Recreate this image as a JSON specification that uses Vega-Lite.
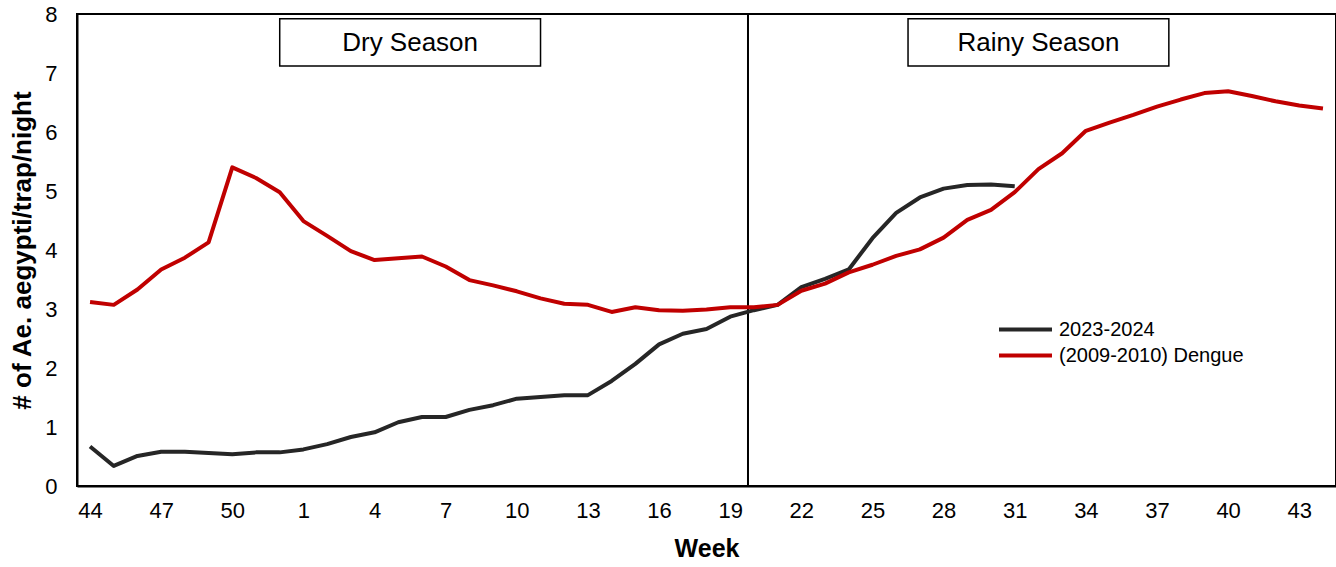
{
  "$schema": "https://vega.github.io/schema/vega-lite/v6.json",
  "width": 1259,
  "height": 472,
  "autosize": {"type": "none"},
  "padding": {"left": 77, "top": 14, "right": 0, "bottom": 81},
  "background": "white",
  "config": {
    "font": "Liberation Sans",
    "view": {"stroke": "#000", "strokeWidth": 2},
    "axis": {"grid": false, "labelColor": "#000", "titleColor": "#000", "domainColor": "#000", "domainWidth": 2, "ticks": false, "labelFont": "Liberation Sans", "titleFont": "Liberation Sans"}
  },
  "datasets": {
    "abund": [
      {"t":0,"week":44,"series":"2023-2024","value":0.67},
      {"t":1,"week":45,"series":"2023-2024","value":0.34},
      {"t":2,"week":46,"series":"2023-2024","value":0.51},
      {"t":3,"week":47,"series":"2023-2024","value":0.58},
      {"t":4,"week":48,"series":"2023-2024","value":0.58},
      {"t":5,"week":49,"series":"2023-2024","value":0.56},
      {"t":6,"week":50,"series":"2023-2024","value":0.54},
      {"t":7,"week":51,"series":"2023-2024","value":0.57},
      {"t":8,"week":52,"series":"2023-2024","value":0.57},
      {"t":9,"week":1,"series":"2023-2024","value":0.62},
      {"t":10,"week":2,"series":"2023-2024","value":0.71},
      {"t":11,"week":3,"series":"2023-2024","value":0.83},
      {"t":12,"week":4,"series":"2023-2024","value":0.91},
      {"t":13,"week":5,"series":"2023-2024","value":1.08},
      {"t":14,"week":6,"series":"2023-2024","value":1.17},
      {"t":15,"week":7,"series":"2023-2024","value":1.17},
      {"t":16,"week":8,"series":"2023-2024","value":1.29},
      {"t":17,"week":9,"series":"2023-2024","value":1.37},
      {"t":18,"week":10,"series":"2023-2024","value":1.48},
      {"t":19,"week":11,"series":"2023-2024","value":1.51},
      {"t":20,"week":12,"series":"2023-2024","value":1.54},
      {"t":21,"week":13,"series":"2023-2024","value":1.54},
      {"t":22,"week":14,"series":"2023-2024","value":1.78},
      {"t":23,"week":15,"series":"2023-2024","value":2.07},
      {"t":24,"week":16,"series":"2023-2024","value":2.40},
      {"t":25,"week":17,"series":"2023-2024","value":2.58},
      {"t":26,"week":18,"series":"2023-2024","value":2.66},
      {"t":27,"week":19,"series":"2023-2024","value":2.87},
      {"t":28,"week":20,"series":"2023-2024","value":2.98},
      {"t":29,"week":21,"series":"2023-2024","value":3.07},
      {"t":30,"week":22,"series":"2023-2024","value":3.37},
      {"t":31,"week":23,"series":"2023-2024","value":3.51},
      {"t":32,"week":24,"series":"2023-2024","value":3.67},
      {"t":33,"week":25,"series":"2023-2024","value":4.20},
      {"t":34,"week":26,"series":"2023-2024","value":4.63},
      {"t":35,"week":27,"series":"2023-2024","value":4.89},
      {"t":36,"week":28,"series":"2023-2024","value":5.04},
      {"t":37,"week":29,"series":"2023-2024","value":5.10},
      {"t":38,"week":30,"series":"2023-2024","value":5.11},
      {"t":39,"week":31,"series":"2023-2024","value":5.08},
      {"t":0,"week":44,"series":"(2009-2010) Dengue","value":3.12},
      {"t":1,"week":45,"series":"(2009-2010) Dengue","value":3.07},
      {"t":2,"week":46,"series":"(2009-2010) Dengue","value":3.33},
      {"t":3,"week":47,"series":"(2009-2010) Dengue","value":3.67},
      {"t":4,"week":48,"series":"(2009-2010) Dengue","value":3.87},
      {"t":5,"week":49,"series":"(2009-2010) Dengue","value":4.13},
      {"t":6,"week":50,"series":"(2009-2010) Dengue","value":5.40},
      {"t":7,"week":51,"series":"(2009-2010) Dengue","value":5.22},
      {"t":8,"week":52,"series":"(2009-2010) Dengue","value":4.98},
      {"t":9,"week":1,"series":"(2009-2010) Dengue","value":4.49},
      {"t":10,"week":2,"series":"(2009-2010) Dengue","value":4.24},
      {"t":11,"week":3,"series":"(2009-2010) Dengue","value":3.98},
      {"t":12,"week":4,"series":"(2009-2010) Dengue","value":3.83},
      {"t":13,"week":5,"series":"(2009-2010) Dengue","value":3.86},
      {"t":14,"week":6,"series":"(2009-2010) Dengue","value":3.89},
      {"t":15,"week":7,"series":"(2009-2010) Dengue","value":3.72},
      {"t":16,"week":8,"series":"(2009-2010) Dengue","value":3.49},
      {"t":17,"week":9,"series":"(2009-2010) Dengue","value":3.40},
      {"t":18,"week":10,"series":"(2009-2010) Dengue","value":3.30},
      {"t":19,"week":11,"series":"(2009-2010) Dengue","value":3.18},
      {"t":20,"week":12,"series":"(2009-2010) Dengue","value":3.09},
      {"t":21,"week":13,"series":"(2009-2010) Dengue","value":3.07},
      {"t":22,"week":14,"series":"(2009-2010) Dengue","value":2.95},
      {"t":23,"week":15,"series":"(2009-2010) Dengue","value":3.03},
      {"t":24,"week":16,"series":"(2009-2010) Dengue","value":2.98},
      {"t":25,"week":17,"series":"(2009-2010) Dengue","value":2.97},
      {"t":26,"week":18,"series":"(2009-2010) Dengue","value":2.99},
      {"t":27,"week":19,"series":"(2009-2010) Dengue","value":3.03},
      {"t":28,"week":20,"series":"(2009-2010) Dengue","value":3.03},
      {"t":29,"week":21,"series":"(2009-2010) Dengue","value":3.07},
      {"t":30,"week":22,"series":"(2009-2010) Dengue","value":3.31},
      {"t":31,"week":23,"series":"(2009-2010) Dengue","value":3.43},
      {"t":32,"week":24,"series":"(2009-2010) Dengue","value":3.62},
      {"t":33,"week":25,"series":"(2009-2010) Dengue","value":3.75},
      {"t":34,"week":26,"series":"(2009-2010) Dengue","value":3.90},
      {"t":35,"week":27,"series":"(2009-2010) Dengue","value":4.01},
      {"t":36,"week":28,"series":"(2009-2010) Dengue","value":4.21},
      {"t":37,"week":29,"series":"(2009-2010) Dengue","value":4.51},
      {"t":38,"week":30,"series":"(2009-2010) Dengue","value":4.68},
      {"t":39,"week":31,"series":"(2009-2010) Dengue","value":4.98},
      {"t":40,"week":32,"series":"(2009-2010) Dengue","value":5.37},
      {"t":41,"week":33,"series":"(2009-2010) Dengue","value":5.64},
      {"t":42,"week":34,"series":"(2009-2010) Dengue","value":6.02},
      {"t":43,"week":35,"series":"(2009-2010) Dengue","value":6.16},
      {"t":44,"week":36,"series":"(2009-2010) Dengue","value":6.29},
      {"t":45,"week":37,"series":"(2009-2010) Dengue","value":6.43},
      {"t":46,"week":38,"series":"(2009-2010) Dengue","value":6.55},
      {"t":47,"week":39,"series":"(2009-2010) Dengue","value":6.66},
      {"t":48,"week":40,"series":"(2009-2010) Dengue","value":6.69},
      {"t":49,"week":41,"series":"(2009-2010) Dengue","value":6.61},
      {"t":50,"week":42,"series":"(2009-2010) Dengue","value":6.52},
      {"t":51,"week":43,"series":"(2009-2010) Dengue","value":6.45},
      {"t":52,"week":44,"series":"(2009-2010) Dengue","value":6.40}
    ],
    "seasons": [
      {"season":"Dry Season","start":8,"end":19,"mid":13.5},
      {"season":"Rainy Season","start":34.5,"end":45.5,"mid":40}
    ]
  },
  "layer": [
    {
      "data": {"name": "seasons"},
      "mark": {"type": "rect", "fill": "white", "stroke": "#000", "strokeWidth": 1.5},
      "encoding": {
        "x": {"field": "start", "type": "quantitative", "scale": {"domain": [-0.55, 52.55], "nice": false, "zero": false}},
        "x2": {"field": "end"},
        "y": {"datum": 7.12, "type": "quantitative"},
        "y2": {"datum": 7.92}
      }
    },
    {
      "data": {"name": "seasons"},
      "mark": {"type": "text", "fontSize": 26, "color": "#000", "font": "Liberation Sans", "baseline": "middle", "align": "center", "dy": 1},
      "encoding": {
        "x": {"field": "mid", "type": "quantitative"},
        "y": {"datum": 7.52, "type": "quantitative"},
        "text": {"field": "season"}
      }
    },
    {
      "data": {"values": [{}]},
      "mark": {"type": "rule", "color": "#000", "strokeWidth": 2},
      "encoding": {"x": {"datum": 27.75, "type": "quantitative"}}
    },
    {
      "data": {"name": "abund"},
      "mark": {"type": "line", "strokeWidth": 4, "strokeJoin": "round", "strokeCap": "butt"},
      "encoding": {
        "x": {
          "field": "t", "type": "quantitative",
          "scale": {"domain": [-0.55, 52.55], "nice": false, "zero": false},
          "axis": {"values": [0,3,6,9,12,15,18,21,24,27,30,33,36,39,42,45,48,51], "labelExpr": "datum.value < 9 ? datum.value + 44 : datum.value - 8", "labelFontSize": 22, "labelPadding": 14, "title": "Week", "titleFontSize": 25, "titleFontWeight": "bold", "titlePadding": 15}
        },
        "y": {
          "field": "value", "type": "quantitative",
          "scale": {"domain": [0, 8], "nice": false},
          "axis": {"values": [0,1,2,3,4,5,6,7,8], "format": "d", "labelFontSize": 22, "labelPadding": 20, "title": "# of Ae. aegypti/trap/night", "titleFontSize": 26, "titleFontWeight": "bold", "titlePadding": 9}
        },
        "color": {
          "field": "series", "type": "nominal",
          "scale": {"domain": ["2023-2024", "(2009-2010) Dengue"], "range": ["#262626", "#c00000"]},
          "legend": {"title": null, "orient": "none", "legendX": 933, "legendY": 300, "symbolType": "M-2,0H2", "symbolSize": 702, "symbolStrokeWidth": 4, "labelFontSize": 20, "labelOffset": 18, "labelColor": "#000", "rowPadding": 0, "labelLimit": 400, "labelFont": "Liberation Sans"}
        },
        "order": {"field": "t", "type": "quantitative"}
      }
    }
  ]
}
